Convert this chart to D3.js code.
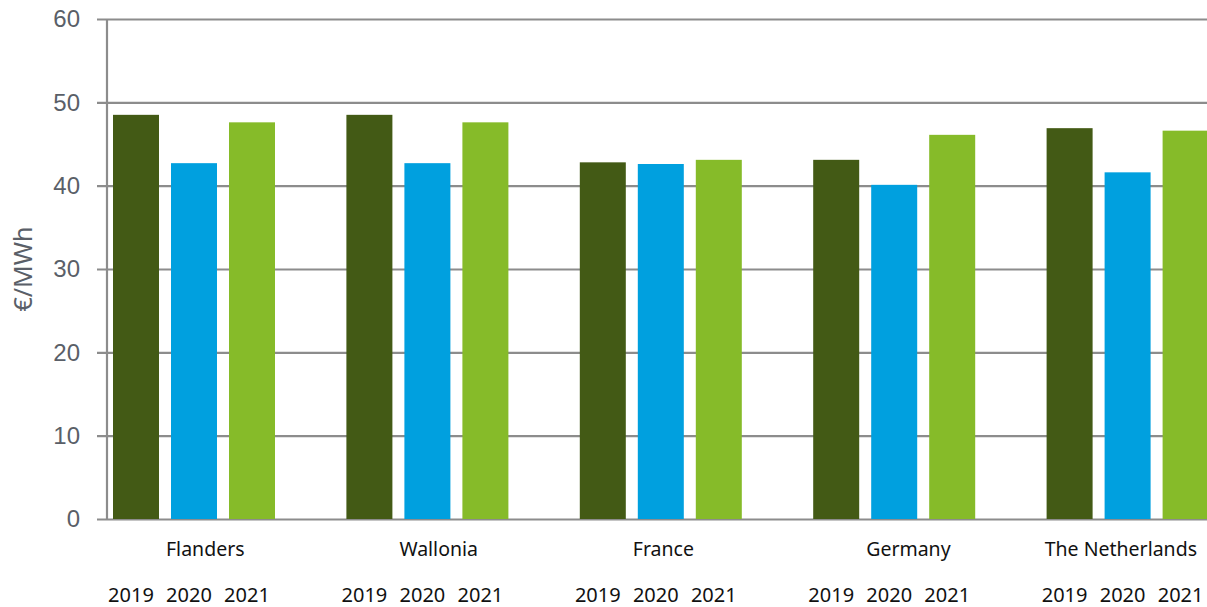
<!DOCTYPE html>
<html>
<head>
<meta charset="utf-8">
<script src="https://cdn.jsdelivr.net/npm/d3@7"></script>
<style>
  body { margin: 0; background: #fff; }
  svg { display: block; font-family: 'Noto Sans', sans-serif; }
</style>
</head>
<body>
<div id="chart-area"></div>
<script>
const regions = ['Flanders', 'Wallonia', 'France', 'Germany', 'The Netherlands'];
const years = ['2019', '2020', '2021'];
const values2019 = [48.5, 48.5, 42.8, 43.1, 46.9];
const values2020 = [42.7, 42.7, 42.6, 40.1, 41.6];
const values2021 = [47.6, 47.6, 43.1, 46.1, 46.6];
const yTicks = [0, 10, 20, 30, 40, 50, 60];
const colors = ['#435a15', '#00a0df', '#86bb29'];

const width = 1207;
const height = 607;
const padding = { left: 107, top: 19, bottom: 88 };

// one row per bar
const bars = [];
regions.forEach((r, i) => {
  [values2019, values2020, values2021].forEach((vals, j) => {
    bars.push({ region: r, year: years[j], value: vals[i] });
  });
});

const xScale = d3.scaleBand()
  .domain(regions)
  .range([padding.left, padding.left + regions.length * 233.4]);

const yearScale = d3.scaleBand()
  .domain(years)
  .range([6, 168])
  .paddingInner(12 / 58);

const yScale = d3.scaleLinear()
  .domain([0, 60])
  .range([height - padding.bottom, padding.top]);

const color = d3.scaleOrdinal().domain(years).range(colors);

const chart = d3.select('#chart-area')
  .append('svg')
  .attr('width', width)
  .attr('height', height);

// gridlines + y axis
const yAxis = d3.axisLeft(yScale)
  .tickValues(yTicks)
  .tickSize(-(width - padding.left + 10))
  .tickFormat(d3.format('d'));

const yG = chart.append('g')
  .attr('transform', `translate(${width + 10}, 0)`)
  .call(yAxis);
yG.select('.domain').remove();
yG.selectAll('.tick line')
  .attr('x1', -(width + 10 - padding.left + 10))
  .attr('x2', 0)
  .attr('stroke', '#8c8c8c')
  .attr('stroke-width', 2.2);
yG.selectAll('.tick text')
  .attr('x', -(width + 10 - padding.left) - 27)
  .attr('fill', '#5a5f68')
  .style('font-size', '24px');

// vertical axis line
chart.append('line')
  .attr('x1', padding.left).attr('x2', padding.left)
  .attr('y1', yScale(60)).attr('y2', yScale(0) + 1)
  .attr('stroke', '#8c8c8c')
  .attr('stroke-width', 2.2);

// y label
chart.append('text')
  .attr('transform', `translate(32, ${yScale(30)}) rotate(-90)`)
  .attr('text-anchor', 'middle')
  .attr('fill', '#5a5f68')
  .style('font-size', '25px')
  .text('€/MWh');

// bars
chart.append('g')
  .selectAll('rect')
  .data(bars)
  .enter()
  .append('rect')
  .attr('x', (d) => xScale(d.region) + yearScale(d.year))
  .attr('y', (d) => yScale(d.value))
  .attr('width', yearScale.bandwidth())
  .attr('height', (d) => yScale(0) - yScale(d.value))
  .attr('fill', (d) => color(d.year));

// region labels
chart.append('g')
  .selectAll('text')
  .data(regions)
  .enter()
  .append('text')
  .attr('y', 556)
  .attr('fill', '#111')
  .style('font-size', '19.5px')
  .text((d) => d)
  .attr('x', function (d) {
    const w = this.getComputedTextLength();
    return Math.min(xScale(d) + 59, width - 10 - w);
  });

// year labels
chart.append('g')
  .selectAll('text')
  .data(bars)
  .enter()
  .append('text')
  .attr('x', (d) => xScale(d.region) + yearScale(d.year) + yearScale.bandwidth() / 2 - 5)
  .attr('y', 602)
  .attr('text-anchor', 'middle')
  .attr('fill', '#111')
  .style('font-size', '20px')
  .text((d) => d.year);
</script>
</body>
</html>
